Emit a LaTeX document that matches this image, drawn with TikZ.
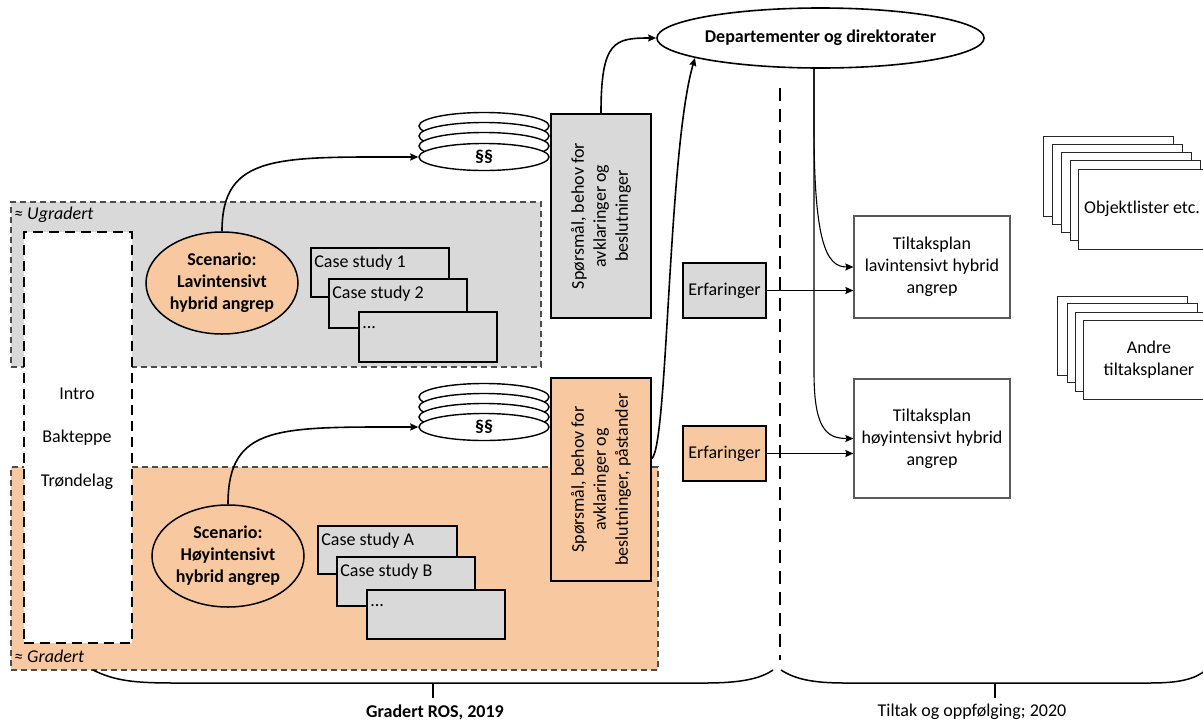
\documentclass[tikz,border=0pt]{standalone}
\usepackage{fontspec}
\setmainfont{Carlito}
\usetikzlibrary{shapes.geometric,arrows.meta}
\definecolor{grayfill}{HTML}{D9D9D9}
\definecolor{peach}{HTML}{F8C8A0}
\begin{document}
\begin{tikzpicture}[x=1pt,y=-1pt,
  every node/.style={font=\fontsize{18}{22}\selectfont},
  region/.style={draw=black!70, line width=1.2pt, dash pattern=on 6pt off 4pt},
  introbox/.style={draw=black, fill=white, line width=1.8pt, dash pattern=on 10pt off 6pt, minimum width=108pt, minimum height=411pt, inner sep=0pt},
  scen/.style={ellipse, draw=black, line width=1.5pt, fill=peach, minimum width=152pt, minimum height=102pt, inner sep=0pt, align=center, font=\fontsize{18}{22}\selectfont\bfseries},
  casebox/.style={rectangle, draw=black, line width=1.6pt, fill=grayfill, minimum width=138pt, minimum height=49pt, inner sep=0pt},
  casetext/.style={anchor=west, inner sep=0pt},
  para/.style={ellipse, draw=black, line width=1.4pt, fill=white, minimum width=130pt, minimum height=27pt, inner sep=0pt, font=\fontsize{18}{20}\selectfont\bfseries},
  qbox/.style={rectangle, draw=black, line width=1.7pt, minimum width=100pt, minimum height=204pt, inner sep=0pt},
  qtext/.style={rotate=90, align=center, inner sep=0pt},
  erf/.style={rectangle, draw=black, line width=1.7pt, minimum width=83pt, minimum height=55pt, inner sep=0pt},
  plan/.style={rectangle, draw=black!65, line width=1.2pt, fill=white, minimum width=156pt, inner sep=0pt, align=center},
  docbox/.style={rectangle, draw=black!85, line width=1.2pt, fill=white, minimum width=130pt, minimum height=80pt, inner sep=0pt, anchor=north west},
  conn/.style={draw=black, line width=1.6pt},
  thinconn/.style={draw=black, line width=1.1pt},
  arr/.style={-{Stealth[length=8pt,width=7pt,inset=1pt]}},
  sepline/.style={draw=black, line width=1.9pt, dash pattern=on 13pt off 8pt},
  bracel/.style={draw=black, line width=1.5pt},
]
\useasboundingbox (0,0) rectangle (1203,721);

% regions
\node[region, fill=grayfill, minimum width=530pt, minimum height=165pt, inner sep=0pt] (ugr) at (276,284.5) {};
\node[region, fill=peach, minimum width=647pt, minimum height=203pt, inner sep=0pt] (gra) at (334.5,568.5) {};
\node[anchor=west, inner sep=0pt, font=\fontsize{18}{22}\selectfont\itshape] (ugrlab) at (14,215) {≈ Ugradert};
\node[anchor=west, inner sep=0pt, font=\fontsize{18}{22}\selectfont\itshape] (gralab) at (14,656) {≈ Gradert};

% intro box
\node[introbox] (intro) at (78,437.5) {};
\node (introa) at (77,394) {Intro};
\node (introb) at (77,438) {Bakteppe};
\node (introc) at (77,482) {Trøndelag};

% scenarios
\node[scen] (sc1) at (222,283) {Scenario:\\Lavintensivt\\hybrid angrep};
\node[scen] (sc2) at (228,556) {Scenario:\\Høyintensivt\\hybrid angrep};

% case studies (upper)
\node[casebox] (c1) at (380,272.5) {};
\node[casetext] (c1t) at ([xshift=4pt,yshift=-15pt]c1.north west) {Case study 1};
\node[casebox] (c2) at (398,303.5) {};
\node[casetext] (c2t) at ([xshift=4pt,yshift=-15pt]c2.north west) {Case study 2};
\node[casebox, minimum height=50pt] (c3) at (428,337) {};
\node[casetext] (c3t) at ([xshift=4pt,yshift=-16pt]c3.north west) {...};

% case studies (lower)
\node[casebox, minimum width=139pt, minimum height=48pt] (ca) at (387.5,550) {};
\node[casetext] (cat) at ([xshift=4pt,yshift=-15pt]ca.north west) {Case study A};
\node[casebox] (cb) at (406,581.5) {};
\node[casetext] (cbt) at ([xshift=4pt,yshift=-15pt]cb.north west) {Case study B};
\node[casebox] (cc) at (436,614.5) {};
\node[casetext] (cct) at ([xshift=4pt,yshift=-16pt]cc.north west) {...};

% paragraph stacks
\node[para] (pa4) at (484,126) {};
\node[para] (pa3) at (484,136) {};
\node[para] (pa2) at (484,146) {};
\node[para] (pa1) at (484,157) {§§};
\node[para] (pb4) at (484,397) {};
\node[para] (pb3) at (484,407) {};
\node[para] (pb2) at (484,417) {};
\node[para] (pb1) at (484,427) {§§};

% question boxes
\node[qbox, fill=grayfill] (q1) at (601,216) {};
\node[qtext] (q1t) at (601,216) {Spørsmål, behov for\\avklaringer og\\beslutninger};
\node[qbox, fill=peach, minimum height=203pt] (q2) at (601,479.5) {};
\node[qtext] (q2t) at (601,479.5) {Spørsmål, behov for\\avklaringer og\\beslutninger, påstander};

% experiences
\node[erf, fill=grayfill] (e1) at (724.5,290.5) {Erfaringer};
\node[erf, fill=peach] (e2) at (724.5,453.5) {Erfaringer};

% departments
\node[ellipse, draw=black, line width=1.6pt, fill=white, minimum width=305pt, minimum height=60pt, inner sep=0pt, font=\fontsize{18}{22}\selectfont\bfseries] (dep) at (820.5,38) {Departementer og direktorater};

% plans
\node[plan, minimum height=102pt] (t1) at (932,267) {Tiltaksplan\\lavintensivt hybrid\\angrep};
\node[plan, minimum height=119pt] (t2) at (932,438.5) {Tiltaksplan\\høyintensivt hybrid\\angrep};

% document stacks
\node[docbox] (o5) at (1043,136) {};
\node[docbox] (o4) at (1052,144) {};
\node[docbox] (o3) at (1061,152) {};
\node[docbox] (o2) at (1070,160) {};
\node[docbox] (o1) at (1078,169) {};
\node (ot) at (1142,209) {Objektlister etc.};
\node[docbox, minimum height=79pt] (a4) at (1057,296) {};
\node[docbox, minimum height=79pt] (a3) at (1067,303) {};
\node[docbox, minimum height=79pt] (a2) at (1075,312) {};
\node[docbox, minimum height=79pt] (a1) at (1083,320) {};
\node[align=center] (at) at (1149,360) {Andre\\tiltaksplaner};

% separator
\coordinate (septop) at (780,88);
\coordinate (sepbot) at (780,660);
\draw[sepline] (septop) -- (sepbot);

% connectors
\draw[conn, arr] (sc1.north) .. controls +(0,-78) and +(-140,0) .. (pa1.west);
\draw[conn, arr] (sc2.north) .. controls +(0,-80) and +(-140,0) .. (pb1.west);
\draw[conn, arr] (q1.north) .. controls +(0,-72) and +(-42,0) .. (dep.west);
\coordinate (q2out) at ([yshift=21pt]q2.east);
\draw[conn, arr] (q2out) .. controls (668,445) and (668,150) .. (dep.189);
\coordinate (depout) at ([xshift=-6.5pt]dep.south);
\coordinate (bend1) at (814,125);
\coordinate (bend2) at (814,372);
\draw[thinconn, arr] (depout) -- (bend1) .. controls +(0,115) and +(-28,0) .. (t1.west);
\draw[thinconn, arr] (depout) -- (bend2) .. controls +(0,55) and +(-28,0) .. (t2.west);
\draw[conn, arr] (e1.east) -- (t1.west |- e1.east);
\draw[conn, arr] (e2.east) -- (t2.west |- e2.east);

% braces
\coordinate (bl1) at (93,670);
\coordinate (bl2) at (773,670);
\coordinate (bltip) at (433,683);
\coordinate (br1) at (781,670);
\coordinate (br2) at (1206,670);
\coordinate (brtip) at (995,683);
\draw[bracel] (bl1) .. controls (115,681) and (135,683) .. (175,683) -- (705,683) .. controls (740,683) and (760,679) .. (bl2);
\draw[bracel] (bltip) -- ++(0,15);
\draw[bracel] (br1) .. controls (795,679) and (812,683) .. (845,683) -- (1150,683) .. controls (1180,683) and (1195,679) .. (br2);
\draw[bracel] (brtip) -- ++(0,15);
\node[font=\fontsize{18}{22}\selectfont\bfseries] (lab1) at (435,712) {Gradert ROS, 2019};
\node (lab2) at (972,712) {Tiltak og oppfølging; 2020};
\end{tikzpicture}
\end{document}
